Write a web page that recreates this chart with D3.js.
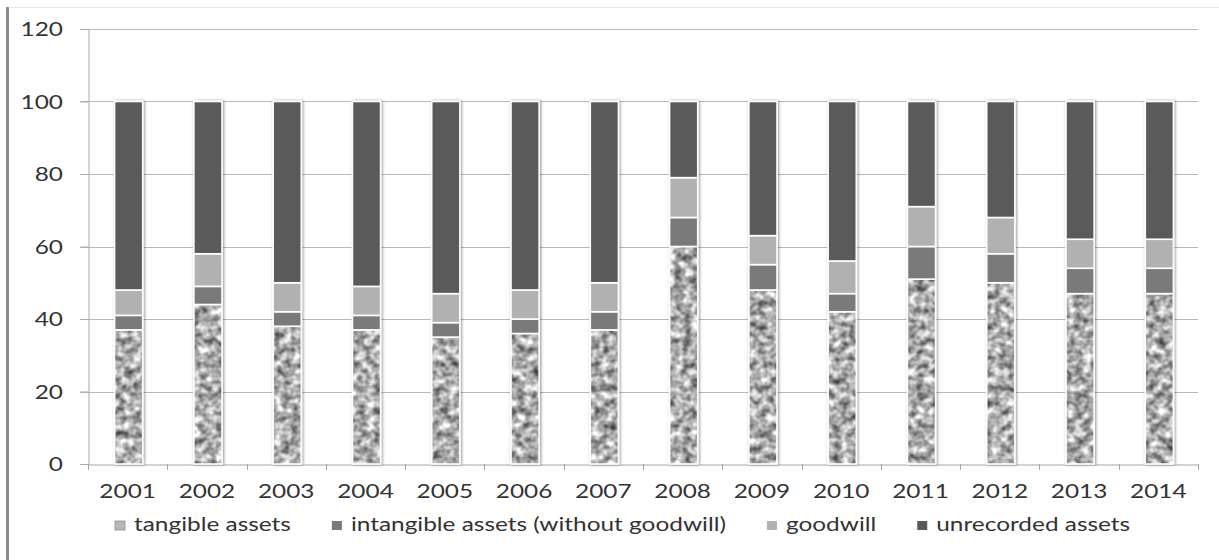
<!DOCTYPE html>
<html>
<head>
<meta charset="utf-8">
<script src="https://cdn.jsdelivr.net/npm/d3@7"></script>
<style>
  html, body { margin: 0; padding: 0; background: #fff; }
  svg { display: block; }
  text { font-family: Lato, "Open Sans", sans-serif; fill: #333333; }
</style>
</head>
<body>
<svg id="chart" width="1219" height="560"></svg>
<script>
// Asset composition per year (percent of market value)
const years = ["2001","2002","2003","2004","2005","2006","2007","2008","2009","2010","2011","2012","2013","2014"];
const tangible   = [37, 44, 38, 37, 35, 36, 37, 60, 48, 42, 51, 50, 47, 47];
const intangible = [ 4,  5,  4,  4,  4,  4,  5,  8,  7,  5,  9,  8,  7,  7];
const goodwill   = [ 7,  9,  8,  8,  8,  8,  8, 11,  8,  9, 11, 10,  8,  8];
const unrecorded = [52, 42, 50, 51, 53, 52, 50, 21, 37, 44, 29, 32, 38, 38];
const seriesKeys   = ["tangible", "intangible", "goodwill", "unrecorded"];
const seriesLabels = ["tangible assets", "intangible assets (without goodwill)", "goodwill", "unrecorded assets"];
const yTicks = [0, 20, 40, 60, 80, 100, 120];

const rows = years.map((y, i) => ({
  year: y,
  tangible: tangible[i],
  intangible: intangible[i],
  goodwill: goodwill[i],
  unrecorded: unrecorded[i]
}));

const W = 1219, H = 560;
const plot = { left: 88, right: 1198, top: 29, bottom: 464 };
const SX = 1.22;          // horizontal stretch of the lettering
const FONT = 20;

const svg = d3.select("#chart");
const defs = svg.append("defs");

// granite-like texture for tangible assets
const noise = defs.append("filter").attr("id", "noise")
  .attr("x", 0).attr("y", 0).attr("width", 1).attr("height", 1)
  .attr("color-interpolation-filters", "sRGB");
noise.append("feTurbulence").attr("type", "fractalNoise")
  .attr("baseFrequency", "0.12 0.13").attr("numOctaves", 2).attr("seed", 11).attr("result", "n");
noise.append("feColorMatrix").attr("in", "n").attr("type", "matrix")
  .attr("values", "1.15 0 0 0 0.1  1.15 0 0 0 0.1  1.15 0 0 0 0.1  0 0 0 0 1").attr("result", "g");
noise.append("feGaussianBlur").attr("in", "g").attr("stdDeviation", 0.7);
const pat = defs.append("pattern").attr("id", "granite")
  .attr("patternUnits", "userSpaceOnUse").attr("width", W).attr("height", H);
pat.append("rect").attr("width", W).attr("height", H).attr("filter", "url(#noise)");

// soft shadow behind the columns
const sh = defs.append("filter").attr("id", "shadow")
  .attr("x", "-30%").attr("y", "-5%").attr("width", "160%").attr("height", "110%");
sh.append("feGaussianBlur").attr("in", "SourceAlpha").attr("stdDeviation", 1.6).attr("result", "b");
sh.append("feOffset").attr("in", "b").attr("dx", 1).attr("dy", 0).attr("result", "o");
sh.append("feComponentTransfer").attr("in", "o").attr("result", "s")
  .append("feFuncA").attr("type", "linear").attr("slope", 0.45);
const merge = sh.append("feMerge");
merge.append("feMergeNode").attr("in", "s");
merge.append("feMergeNode").attr("in", "SourceGraphic");

const fills = {
  tangible: "url(#granite)",
  intangible: "#7a7a7a",
  goodwill: "#b1b1b1",
  unrecorded: "#5a5a5a"
};
const legendFills = {
  tangible: "#b8b8b8",
  intangible: "#7a7a7a",
  goodwill: "#b1b1b1",
  unrecorded: "#5a5a5a"
};

// page frame
svg.append("line").attr("x1", 10).attr("x2", W).attr("y1", 7.5).attr("y2", 7.5)
  .attr("stroke", "#e6e6e6").attr("stroke-width", 1);
svg.append("rect").attr("x", 6).attr("y", 7).attr("width", 3).attr("height", H - 7)
  .attr("fill", "#8c8c8c");

const x = d3.scaleBand().domain(years).range([plot.left, plot.right]).padding(0);
const y = d3.scaleLinear().domain([0, 120]).range([plot.bottom, plot.top]);

// gridlines
svg.append("g").selectAll("line").data(yTicks.filter(t => t > 0)).join("line")
  .attr("x1", plot.left - 8).attr("x2", plot.right)
  .attr("y1", d => Math.round(y(d)) + 0.5).attr("y2", d => Math.round(y(d)) + 0.5)
  .attr("stroke", "#b8b8b8").attr("stroke-width", 1);

// y axis
const yAxis = svg.append("g").attr("transform", `translate(${plot.left + 0.5},0)`)
  .call(d3.axisLeft(y).tickValues(yTicks).tickSize(8).tickFormat(d3.format("d")));
yAxis.select(".domain").attr("stroke", "#a8a8a8");
yAxis.selectAll(".tick line").attr("stroke", "#a8a8a8");
yAxis.selectAll(".tick text").remove();
svg.append("g").selectAll("text").data(yTicks).join("text")
  .attr("transform", d => `translate(63,${y(d)}) scale(${SX},1)`)
  .attr("text-anchor", "end").attr("dy", "0.36em")
  .style("font-size", FONT + "px")
  .text(d => d);

// x axis
const xAxis = svg.append("g").attr("transform", `translate(0,${plot.bottom + 0.5})`)
  .call(d3.axisBottom(x).tickSize(0).tickFormat(""));
xAxis.select(".domain").attr("stroke", "#a8a8a8");
svg.append("g").selectAll("line").data(d3.range(years.length + 1)).join("line")
  .attr("x1", i => Math.round(plot.left + i * x.step()) + 0.5)
  .attr("x2", i => Math.round(plot.left + i * x.step()) + 0.5)
  .attr("y1", plot.bottom).attr("y2", plot.bottom + 6)
  .attr("stroke", "#a8a8a8");
svg.append("g").selectAll("text").data(years).join("text")
  .attr("transform", d => `translate(${x(d) + x.bandwidth() / 2},498) scale(${SX},1)`)
  .attr("text-anchor", "middle")
  .style("font-size", FONT + "px")
  .text(d => d);

// stacked columns
const stack = d3.stack().keys(seriesKeys)(rows);
const barW = x.bandwidth() * 0.355;
const bars = svg.append("g").attr("filter", "url(#shadow)");
stack.forEach(layer => {
  bars.append("g").selectAll("rect").data(layer).join("rect")
    .attr("x", d => x(d.data.year) + (x.bandwidth() - barW) / 2 + 1)
    .attr("y", d => y(d[1]))
    .attr("width", barW)
    .attr("height", d => y(d[0]) - y(d[1]))
    .attr("fill", fills[layer.key])
    .attr("stroke", "#ffffff").attr("stroke-width", 1.6);
});

// legend
const legend = svg.append("g");
let lx = 115;
seriesKeys.forEach((k, i) => {
  legend.append("rect").attr("x", lx).attr("y", 521).attr("width", 10).attr("height", 9)
    .attr("fill", legendFills[k]).attr("stroke", k === "tangible" ? "#909090" : "none")
    .attr("stroke-width", 0.8);
  const t = legend.append("text")
    .attr("transform", `translate(${lx + 19},531) scale(${SX},1)`)
    .style("font-size", FONT + "px")
    .text(seriesLabels[i]);
  const w = t.node().getComputedTextLength() * SX;
  lx += 19 + w + 41;
});
</script>
</body>
</html>
